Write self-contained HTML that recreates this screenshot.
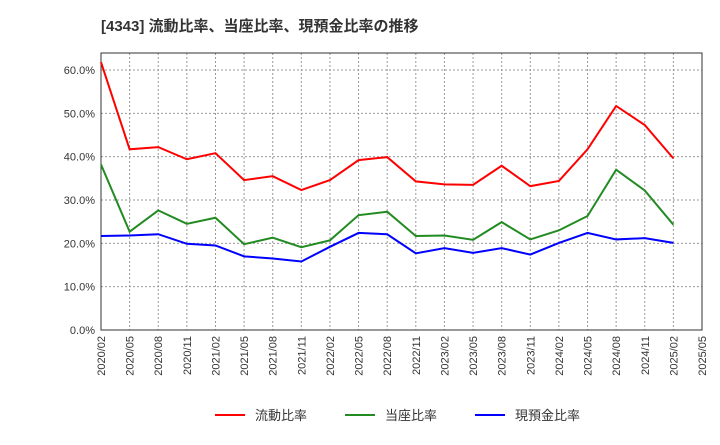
<!DOCTYPE html>
<html><head><meta charset="utf-8"><style>
body{margin:0;background:#fff;font-family:"Liberation Sans","Noto Sans CJK JP",sans-serif}
</style></head><body>
<svg id="c" width="720" height="440" xmlns="http://www.w3.org/2000/svg">
<text x="101" y="31" font-size="15" font-weight="bold" fill="#333" font-family="Liberation Sans, Noto Sans CJK JP, sans-serif">[4343]  流動比率、当座比率、現預金比率の推移</text>
<g id="grid"></g><g id="axes"></g><g id="series"></g><g id="legend"></g>
</svg>
<script>
const categories=["2020/02","2020/05","2020/08","2020/11","2021/02","2021/05","2021/08","2021/11","2022/02","2022/05","2022/08","2022/11","2023/02","2023/05","2023/08","2023/11","2024/02","2024/05","2024/08","2024/11","2025/02","2025/05"];
const currentRatio=[61.8,41.7,42.2,39.4,40.8,34.6,35.5,32.3,34.6,39.2,39.9,34.3,33.6,33.5,37.9,33.2,34.4,41.7,51.7,47.3,39.6];
const quickRatio=[38.2,22.7,27.6,24.5,25.9,19.8,21.3,19.1,20.7,26.5,27.3,21.7,21.8,20.8,24.9,20.9,23.0,26.3,37.0,32.2,24.3];
const cashRatio=[21.7,21.8,22.1,19.9,19.5,17.0,16.5,15.8,19.2,22.4,22.1,17.7,18.9,17.8,18.9,17.4,20.1,22.4,20.9,21.2,20.1];
const yTicks=[0,10,20,30,40,50,60];
const seriesNames=["流動比率","当座比率","現預金比率"];
const colors=["#ff0000","#228b22","#0000ff"];
const NS="http://www.w3.org/2000/svg";
const L=101,R=702,T=53,B=330;
const xs=i=>L+i*(R-L)/(categories.length-1);
const ys=v=>B-v*(B-70)/60;
function mk(tag,at,parent){const e=document.createElementNS(NS,tag);for(const k in at)e.setAttribute(k,at[k]);parent.appendChild(e);return e;}
const grid=document.getElementById('grid'),axes=document.getElementById('axes'),ser=document.getElementById('series'),leg=document.getElementById('legend');
categories.forEach((c,i)=>{
 const l=mk('line',{x1:xs(i),x2:xs(i),y1:T,y2:B,stroke:'#999','stroke-dasharray':'2,2','stroke-width':1},grid);
 
 
 const x=xs(i),t=mk('text',{x:x+4,y:B+6,'font-size':11,fill:'#333','text-anchor':'end',transform:`rotate(-90 ${x+4} ${B+6})`},axes);
 t.textContent=c;
 
 
});
yTicks.forEach(v=>{
 const l=mk('line',{x1:L,x2:R,y1:ys(v),y2:ys(v),stroke:'#999','stroke-dasharray':'2,2','stroke-width':1},grid);
 
 
 const t=mk('text',{x:L-6,y:ys(v)+4,'font-size':11,fill:'#333','text-anchor':'end'},axes);
 t.textContent=v.toFixed(1)+'%';
 
 
});
const fr=mk('rect',{x:L,y:T,width:R-L,height:B-T,fill:'none',stroke:'#333','stroke-width':1},axes);


[currentRatio,quickRatio,cashRatio].forEach((d,k)=>{
 const p=mk('polyline',{points:d.map((v,i)=>xs(i)+','+ys(v)).join(' '),fill:'none',stroke:colors[k],'stroke-width':2},ser);
 
 
});
const lx=[215,345,475];
seriesNames.forEach((n,k)=>{
 const g=mk('g',{},leg);
 
 
 mk('line',{x1:lx[k],x2:lx[k]+30,y1:415,y2:415,stroke:colors[k],'stroke-width':2},g);
 const t=mk('text',{x:lx[k]+40,y:420,'font-size':13,fill:'#333'},g);
 t.textContent=n;
});
</script>
</body></html>
